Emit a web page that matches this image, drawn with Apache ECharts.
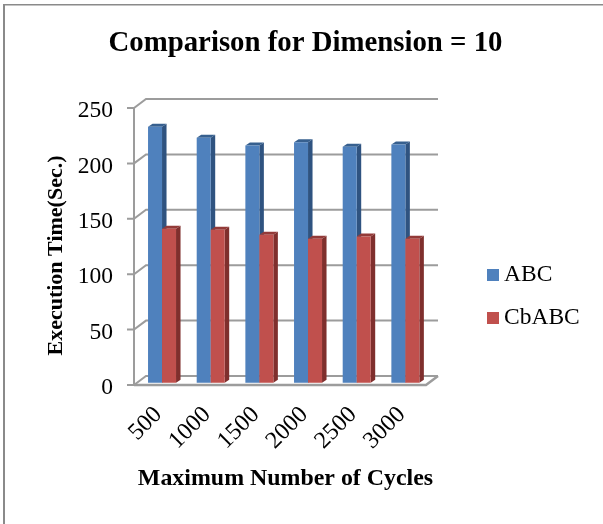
<!DOCTYPE html>
<html><head><meta charset="utf-8">
<style>html,body{margin:0;padding:0;background:#fff}#c{width:603px;height:524px}</style>
<script src="https://cdn.jsdelivr.net/npm/echarts@6/dist/echarts.min.js"></script>
</head><body><div id="c"></div>
<script>
const categories = ['500','1000','1500','2000','2500','3000'];
const abcValues = [231, 221, 214, 217, 213, 215];
const cbabcValues = [139, 138, 133.5, 130, 132, 130];
const yTicks = [0, 50, 100, 150, 200, 250];

const FONT = '"Liberation Serif","Times New Roman",serif';
const GRID = '#9c9c9c';
const DX = 12, DY = -9;
const chart = echarts.init(document.getElementById('c'));

function bar3d(color, side, top, slot) {
  return function (params, api) {
    const i = api.value(0), v = api.value(1);
    const p0 = api.coord([i, 0]), p1 = api.coord([i, v]);
    const w = 14, d = 4.5, e = -3;
    const x = p0[0] + 3.7 - w + slot * w, yb = p0[1] - 2.3, yt = p1[1] - 2.3;
    return { type: 'group', children: [
      { type: 'polygon', shape: { points: [[x + w, yt], [x + w + d, yt + e], [x + w + d, yb + e], [x + w, yb]] }, style: { fill: side } },
      { type: 'polygon', shape: { points: [[x, yt], [x + d, yt + e], [x + w + d, yt + e], [x + w, yt]] }, style: { fill: top } },
      { type: 'rect', shape: { x: x, y: yt, width: w, height: yb - yt }, style: { fill: color } }
    ]};
  };
}

function wallItem(params, api) {
  const v = api.value(0);
  const p = api.coord([0, v]);
  const x0 = params.coordSys.x;
  const x1 = x0 + params.coordSys.width;
  const lines = [
    { type: 'polyline', shape: { points: [[x0 - 7, p[1]], [x0, p[1]], [x0 + DX, p[1] + DY], [x1 + DX, p[1] + DY]] }, style: { fill: null, stroke: GRID, lineWidth: 2 } }
  ];
  if (v === 0) {
    lines.push({ type: 'polyline', shape: { points: [[x0, p[1]], [x1, p[1]], [x1 + DX, p[1] + DY]] }, style: { fill: null, stroke: GRID, lineWidth: 2.5 } });
  }
  return { type: 'group', children: lines };
}

chart.setOption({
  backgroundColor: '#fff',
  animation: false,
  graphic: [
    { type: 'rect', shape: { x: 3, y: 4, width: 600, height: 1.5 }, style: { fill: '#8a8a8a' } },
    { type: 'rect', shape: { x: 3, y: 4, width: 2, height: 520 }, style: { fill: '#8a8a8a' } }
  ],
  title: {
    text: 'Comparison for Dimension = 10', left: 300.5, top: 24, textAlign: 'center',
    textStyle: { fontFamily: FONT, fontWeight: 'bold', fontSize: 28.8, color: '#000' }
  },
  legend: {
    orient: 'vertical', left: 482, top: 258, itemWidth: 12, itemHeight: 12, itemGap: 19,
    data: ['ABC', 'CbABC'], icon: 'rect',
    textStyle: { fontFamily: FONT, fontSize: 23.5, color: '#000' }
  },
  grid: [
    { left: 134, top: 108, width: 292, height: 277 },
    { left: 134, top: 111, width: 292, height: 277 }
  ],
  xAxis: [{
    type: 'category', data: categories,
    name: 'Maximum Number of Cycles', nameLocation: 'middle', nameGap: 82,
    nameTextStyle: { fontFamily: FONT, fontWeight: 'bold', fontSize: 23.9, color: '#000', padding: [0, 0, 0, 11] },
    axisLine: { show: false }, axisTick: { show: false },
    axisLabel: { rotate: 45, fontFamily: FONT, fontSize: 24, color: '#000', margin: 26, interval: 0 }
  }, {
    type: 'category', gridIndex: 1, data: categories, show: false
  }],
  yAxis: [{
    type: 'value', min: 0, max: 250, interval: 50,
    name: 'Execution Time(Sec.)', nameLocation: 'middle', nameGap: 67,
    nameTextStyle: { fontFamily: FONT, fontWeight: 'bold', fontSize: 22, color: '#000', padding: [0, 18, 0, 0] },
    axisLine: { show: true, lineStyle: { color: GRID, width: 2 } }, axisTick: { show: false },
    splitLine: { show: false },
    axisLabel: { show: false }
  }, {
    type: 'value', gridIndex: 1, min: 0, max: 250, interval: 50,
    axisLine: { show: false }, axisTick: { show: false }, splitLine: { show: false },
    axisLabel: { fontFamily: FONT, fontSize: 23.5, color: '#000', margin: 21 }
  }],
  series: [
    { type: 'custom', name: 'wall', data: yTicks.map(v => [v]), encode: { y: 0 }, renderItem: wallItem, silent: true, z: 1 },
    { type: 'custom', name: 'ABC', data: abcValues.map((v, i) => [i, v]), encode: { x: 0, y: 1 }, itemStyle: { color: '#4f81bd' }, renderItem: bar3d('#4f81bd', '#2f5380', '#37608f', 0), z: 2 },
    { type: 'custom', name: 'CbABC', data: cbabcValues.map((v, i) => [i, v]), encode: { x: 0, y: 1 }, itemStyle: { color: '#c0504d' }, renderItem: bar3d('#c0504d', '#7f2f2d', '#933a38', 1), z: 3 }
  ]
});
</script></body></html>
